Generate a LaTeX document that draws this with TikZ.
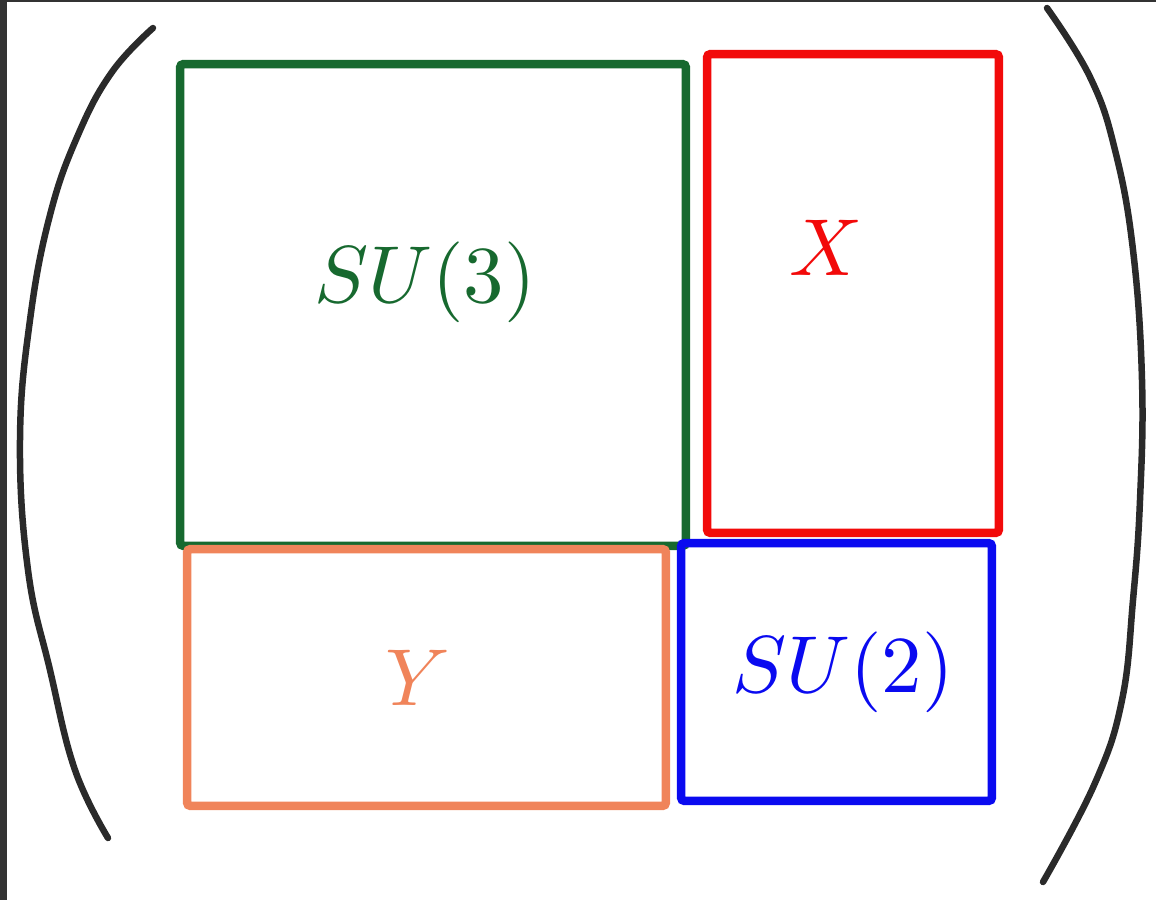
\documentclass[tikz,border=0pt]{standalone}
\usepackage{tikz}
\usetikzlibrary{positioning}
\usepackage{xcolor}
\definecolor{su3color}{HTML}{17692F}
\definecolor{xcolor}{HTML}{F20A0A}
\definecolor{ycolor}{HTML}{F0845A}
\definecolor{su2color}{HTML}{0A0AF0}
\definecolor{pencolor}{HTML}{2A2A2A}
\definecolor{framecolor}{HTML}{333333}

\begin{document}
\begin{tikzpicture}[
    x=0.02cm, y=-0.02cm,
    block/.style={draw, line width=0.17cm, rounded corners=2pt, inner sep=0pt},
    blocklabel/.style={scale=4.6, transform shape},
    paren/.style={draw=pencolor, line width=0.13cm, line cap=round, line join=round},
]
\useasboundingbox (0,0) rectangle (1156,900);

% screenshot edge
\fill[framecolor] (0,0) rectangle (7,900);
\fill[framecolor] (0,0) rectangle (1156,2);

% blocks
\node[block, draw=su3color, minimum width=10.12cm, minimum height=9.64cm] (su3) at (433,305) {};
\node[block, draw=xcolor, minimum width=5.84cm, minimum height=9.58cm] (xblk) at (853,293.5) {};
\node[block, draw=ycolor, minimum width=9.58cm, minimum height=5.14cm] (yblk) at (426.5,677.5) {};
\node[block, draw=su2color, minimum width=6.22cm, minimum height=5.16cm] (su2) at (836.5,672) {};

% labels
\node[blocklabel, text=su3color] (su3lbl) at (425,282) {$SU(3)$};
\node[blocklabel, text=xcolor] (xlbl) at (826,248) {$X$};
\node[blocklabel, text=ycolor] (ylbl) at (418,678) {$Y$};
\node[blocklabel, text=su2color] (su2lbl) at (843,672) {$SU(2)$};

% hand-drawn brackets
\draw[paren] plot[smooth, tension=0.7] coordinates {(153,28) (112,72) (78,135) (50,215) (30,320) (20,440) (28,570) (50,670) (75,770) (108,838)};
\draw[paren] plot[smooth, tension=0.7] coordinates {(1047,8) (1090,77) (1115,150) (1133,250) (1142,380) (1140,500) (1133,600) (1122,700) (1095,783) (1043,882)};

\end{tikzpicture}
\end{document}
